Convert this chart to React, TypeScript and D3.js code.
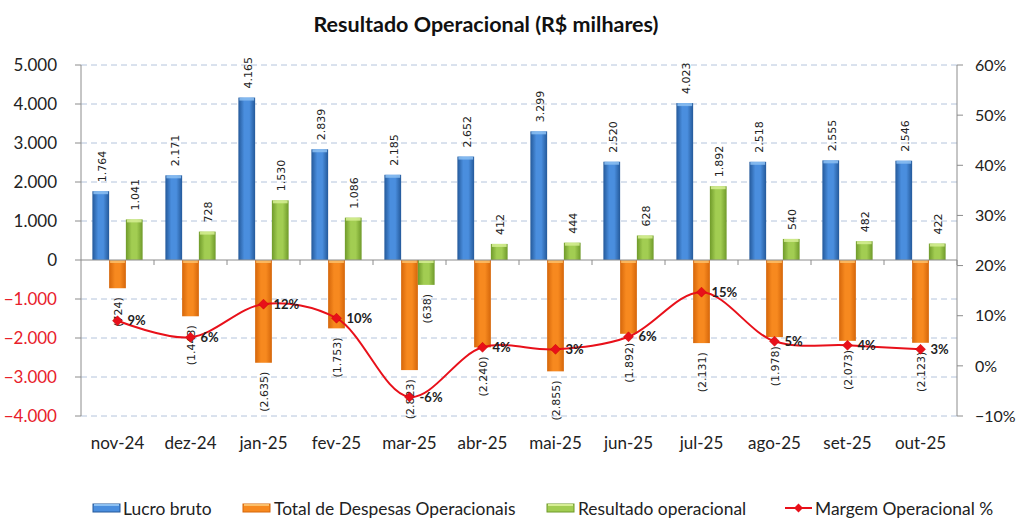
import React from "react";
import * as d3 from "d3";

const categories = ["nov-24","dez-24","jan-25","fev-25","mar-25","abr-25","mai-25","jun-25","jul-25","ago-25","set-25","out-25"];
const lucroBruto = [1764,2171,4165,2839,2185,2652,3299,2520,4023,2518,2555,2546];
const despesas = [-724,-1443,-2635,-1753,-2823,-2240,-2855,-1892,-2131,-1978,-2073,-2123];
const resultado = [1041,728,1530,1086,-638,412,444,628,1892,540,482,422];
const margem = [0.09,0.057,0.123,0.095,-0.062,0.037,0.033,0.058,0.147,0.049,0.041,0.033];
const margemLabels = ["9%","6%","12%","10%","-6%","4%","3%","6%","15%","5%","4%","3%"];
const leftTicks = [-4000,-3000,-2000,-1000,0,1000,2000,3000,4000,5000];
const rightTicks = [-0.1,0,0.1,0.2,0.3,0.4,0.5,0.6];
const seriesNames = ["Lucro bruto","Total de Despesas Operacionais","Resultado operacional","Margem Operacional %"];

const W = 1016, H = 519;
const FONT = "Lato, 'Open Sans', sans-serif";
const LABEL_FONT = "'DejaVu Sans', sans-serif";

const loc = d3.formatLocale({ decimal: ",", thousands: ".", grouping: [3], currency: ["R$", ""] });
const fmt = loc.format(",.0f");
const fmtBar = (v: number) => (v < 0 ? `(${fmt(-v)})` : fmt(v));
const fmtPct = d3.format(".0%");

const palette = [
  { id: "gBlue", edge: "#24599a", mid: "#4a8ede", top: "#8cc0f2" },
  { id: "gOrange", edge: "#d5660a", mid: "#f7891f", top: "#fbbf6a" },
  { id: "gGreen", edge: "#6f9a2a", mid: "#a2cd52", top: "#d6ee94" },
];

export default function App() {
  const plot = { left: 81, right: 957, top: 65, bottom: 416 };
  const x = d3.scaleBand<string>().domain(categories).range([plot.left, plot.right]);
  const keys = ["a", "b", "c"];
  const x1 = d3.scaleBand<string>().domain(keys).range([0, x.bandwidth()]).paddingInner(0).paddingOuter(0.68);
  const yL = d3.scaleLinear().domain([-4000, 5000]).range([plot.bottom, plot.top]);
  const yR = d3.scaleLinear().domain([-0.1, 0.6]).range([plot.bottom, plot.top]);
  const series = [lucroBruto, despesas, resultado];
  const bw = x1.bandwidth();

  const lineGen = d3
    .line<number>()
    .x((_, i) => (x(categories[i]) as number) + x.bandwidth() / 2)
    .y((d) => yR(d))
    .curve(d3.curveCatmullRom.alpha(0.5));

  const diamond = (cx: number, cy: number, r: number) =>
    `M${cx},${cy - r}L${cx + r},${cy}L${cx},${cy + r}L${cx - r},${cy}Z`;

  const legendItems = [
    { x: 93, textX: 123, kind: 0 },
    { x: 243, textX: 274, kind: 1 },
    { x: 547, textX: 578, kind: 2 },
    { x: 785, textX: 815, kind: 3 },
  ];

  return (
    <svg width={W} height={H} style={{ position: "absolute", left: 0, top: 0, display: "block", background: "#fff" }}>
      <defs>
        {palette.map((p) => (
          <linearGradient key={p.id} id={p.id} x1="0" x2="1" y1="0" y2="0">
            <stop offset="0" stopColor={p.edge} />
            <stop offset="0.35" stopColor={p.mid} />
            <stop offset="0.65" stopColor={p.mid} />
            <stop offset="1" stopColor={p.edge} />
          </linearGradient>
        ))}
      </defs>
      <rect width={W} height={H} fill="#fff" />
      <text x={486} y={32} textAnchor="middle" fontFamily={FONT} fontWeight={700} fontSize={21.5} fill="#111">
        Resultado Operacional (R$ milhares)
      </text>

      {/* gridlines */}
      {leftTicks.filter((t) => t !== 0).map((t) => (
        <line key={t} x1={plot.left} x2={plot.right} y1={yL(t)} y2={yL(t)} stroke="#b4c4dc" strokeWidth={1} strokeDasharray="6,4" />
      ))}

      {/* axes */}
      <line x1={plot.left} x2={plot.left} y1={plot.top} y2={plot.bottom} stroke="#8c8c8c" />
      <line x1={plot.right} x2={plot.right} y1={plot.top} y2={plot.bottom} stroke="#8c8c8c" />
      {leftTicks.map((t) => (
        <g key={t}>
          <line x1={plot.left - 6} x2={plot.left} y1={yL(t)} y2={yL(t)} stroke="#8c8c8c" />
          <text x={57} y={yL(t)} dy="0.36em" textAnchor="end" fontFamily={FONT} fontSize={17} fill={t < 0 ? "#e8202a" : "#222"}>
            {fmt(t)}
          </text>
        </g>
      ))}
      {rightTicks.map((t) => (
        <g key={t}>
          <line x1={plot.right} x2={plot.right + 6} y1={yR(t)} y2={yR(t)} stroke="#8c8c8c" />
          <text x={975} y={yR(t)} dy="0.36em" textAnchor="start" fontFamily={FONT} fontSize={16} fill="#222">
            {fmtPct(t)}
          </text>
        </g>
      ))}

      {/* bars */}
      {series.map((vals, si) =>
        vals.map((v, i) => {
          const bx = (x(categories[i]) as number) + (x1(keys[si]) as number);
          const y0 = yL(0);
          const yv = yL(v);
          const top = Math.min(y0, yv);
          const h = Math.abs(yv - y0);
          const p = palette[si];
          return (
            <g key={`${si}-${i}`}>
              <rect x={bx} y={top} width={bw} height={h} fill={`url(#${p.id})`} />
              <rect x={bx + 1} y={top} width={bw - 2} height={Math.min(3, h)} fill={p.top} opacity={0.85} />
            </g>
          );
        })
      )}

      {/* zero axis */}
      <line x1={plot.left} x2={plot.right} y1={yL(0)} y2={yL(0)} stroke="#8c8c8c" />
      {categories.map((c) => (
        <line key={c} x1={(x(c) as number) + x.bandwidth()} x2={(x(c) as number) + x.bandwidth()} y1={yL(0)} y2={yL(0) + 5} stroke="#8c8c8c" />
      ))}

      {/* bar labels */}
      {series.map((vals, si) =>
        vals.map((v, i) => {
          const cx = (x(categories[i]) as number) + (x1(keys[si]) as number) + bw / 2 + 1;
          const yv = yL(v);
          const pos = v >= 0;
          const ly = pos ? yv - 9 : yv + 9;
          return (
            <text
              key={`l${si}-${i}`}
              transform={`translate(${cx},${ly}) rotate(-90)`}
              dy="0.36em"
              textAnchor={pos ? "start" : "end"}
              fontFamily={LABEL_FONT}
              fontSize={11}
              fill="#222"
            >
              {fmtBar(v)}
            </text>
          );
        })
      )}

      {/* margin line */}
      <path d={lineGen(margem) as string} fill="none" stroke="#e8101a" strokeWidth={2} />
      {margem.map((m, i) => {
        const cx = (x(categories[i]) as number) + x.bandwidth() / 2;
        const cy = yR(m);
        return (
          <g key={`m${i}`}>
            <path d={diamond(cx, cy, 5)} fill="#e8101a" stroke="#c00" strokeWidth={0.5} />
            <text x={cx + 10} y={cy} dy="0.36em" fontFamily={FONT} fontWeight={700} fontSize={13} fill="#222">
              {margemLabels[i]}
            </text>
          </g>
        );
      })}

      {/* category labels */}
      {categories.map((c) => (
        <text key={`c${c}`} x={(x(c) as number) + x.bandwidth() / 2} y={449} textAnchor="middle" fontFamily={FONT} fontSize={17} fill="#222">
          {c}
        </text>
      ))}

      {/* legend */}
      {legendItems.map((it) => (
        <g key={`lg${it.kind}`}>
          {it.kind < 3 ? (
            <g>
              <rect x={it.x} y={504} width={27} height={8} fill={palette[it.kind].mid} stroke={palette[it.kind].edge} strokeWidth={1} />
              <rect x={it.x + 1} y={504} width={25} height={2} fill={palette[it.kind].top} />
            </g>
          ) : (
            <g>
              <line x1={it.x} x2={it.x + 27} y1={508} y2={508} stroke="#e8101a" strokeWidth={2} />
              <path d={diamond(it.x + 13.5, 508, 4.5)} fill="#e8101a" />
            </g>
          )}
          <text x={it.textX} y={515} fontFamily={FONT} fontSize={17.4} fill="#222">
            {seriesNames[it.kind]}
          </text>
        </g>
      ))}
    </svg>
  );
}
